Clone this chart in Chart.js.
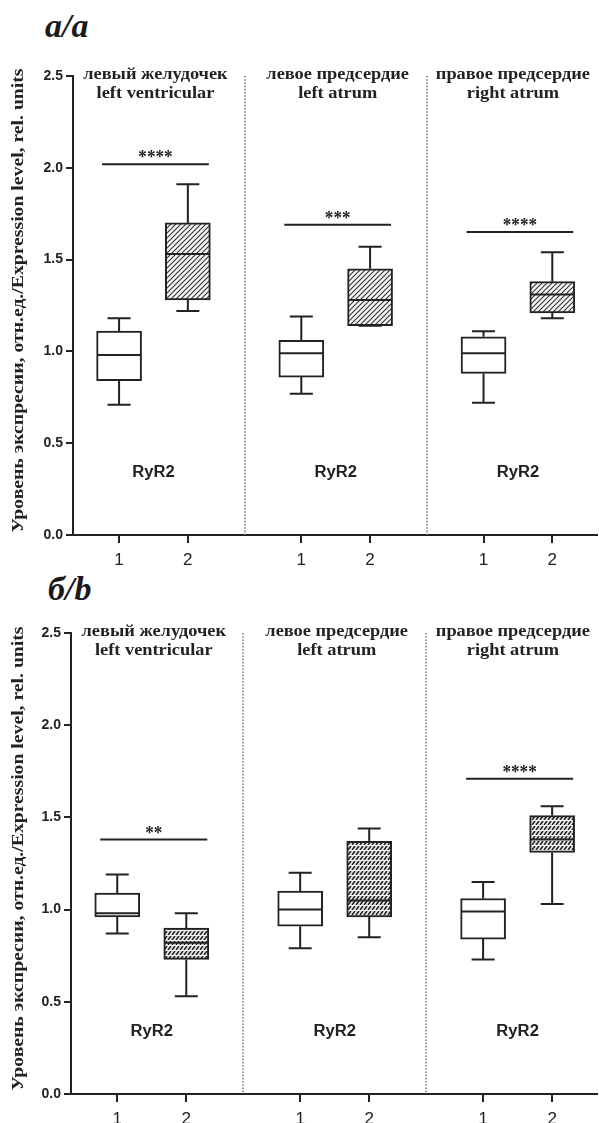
<!DOCTYPE html>
<html>
<head>
<meta charset="utf-8">
<script src="https://cdn.jsdelivr.net/npm/chart.js@4.4.1/dist/chart.umd.min.js"></script>
<style>
  html, body { margin: 0; padding: 0; background: #fff; }
  body { width: 599px; height: 1123px; position: relative; overflow: hidden; }
  .panel-label { position: absolute; font: italic bold 34px "Liberation Serif", serif; color: #1a1a1a; line-height: 34px; }
  .wrap { position: absolute; left: 0; width: 599px; }
</style>
</head>
<body>
<div class="panel-label" style="left:45px;top:9px">a/a</div>
<div class="wrap" style="top:40px;height:530px"><canvas id="chartA"></canvas></div>
<div class="panel-label" style="left:48px;top:572px">б/b</div>
<div class="wrap" style="top:600px;height:523px"><canvas id="chartB"></canvas></div>
<script>
// ---- data ----
const regionsRu = ["левый желудочек", "левое предсердие", "правое предсердие"];
const regionsEn = ["left ventricular", "left atrum", "right atrum"];
const groupTicks = ["1", "2"];
const geneLabel = "RyR2";
const yTicks = [0, 0.5, 1.0, 1.5, 2.0, 2.5];
const yTitle = "Уровень экспресии, отн.ед./Expression level, rel. units";

// box summaries per region: [min, q1, median, q3, max]
const aGroup1 = [[0.71, 0.84, 0.98, 1.11, 1.18], [0.77, 0.86, 0.99, 1.06, 1.19], [0.72, 0.88, 0.99, 1.08, 1.11]];
const aGroup2 = [[1.22, 1.28, 1.53, 1.70, 1.91], [1.14, 1.14, 1.28, 1.45, 1.57], [1.18, 1.21, 1.31, 1.38, 1.54]];
const aSigLevel = [2.02, 1.69, 1.65];
const aSigStars = ["****", "***", "****"];

const bGroup1 = [[0.87, 0.96, 0.98, 1.09, 1.19], [0.79, 0.91, 1.00, 1.10, 1.20], [0.73, 0.84, 0.99, 1.06, 1.15]];
const bGroup2 = [[0.53, 0.73, 0.82, 0.90, 0.98], [0.85, 0.96, 1.05, 1.37, 1.44], [1.03, 1.31, 1.38, 1.51, 1.56]];
const bSigLevel = [1.38, null, 1.71];
const bSigStars = ["**", "", "****"];

// ---- layout helpers ----
const GROUP_STEP = 2.65;
const xOf = (region, item) => 1 + region * GROUP_STEP + item;
const INK = "#222";

// hatch patterns for the second group
function hatchA() {
  const c = document.createElement("canvas");
  c.width = 5; c.height = 5;
  const g = c.getContext("2d");
  g.fillStyle = "#f7f7f7"; g.fillRect(0, 0, 5, 5);
  g.strokeStyle = "#333"; g.lineWidth = 1.1;
  g.beginPath();
  g.moveTo(-1, 6); g.lineTo(6, -1);
  g.moveTo(-1, 1); g.lineTo(1, -1);
  g.moveTo(4, 6); g.lineTo(6, 4);
  g.stroke();
  return g.createPattern(c, "repeat");
}
function hatchB() {
  const c = document.createElement("canvas");
  c.width = 4; c.height = 5;
  const g = c.getContext("2d");
  g.fillStyle = "#e6e6e6"; g.fillRect(0, 0, 4, 5);
  g.strokeStyle = "#1e1e1e"; g.lineWidth = 1.5;
  g.beginPath();
  g.moveTo(0, 5); g.lineTo(3, 1);
  g.moveTo(4, 5); g.lineTo(7, 1);
  g.stroke();
  g.fillStyle = "#f4f4f4";
  g.fillRect(0, 0, 4, 1);
  return g.createPattern(c, "repeat");
}

function stretchedText(ctx, text, x, y, sx) {
  ctx.save();
  ctx.translate(x, y);
  ctx.scale(sx, 1);
  ctx.fillText(text, 0, 0);
  ctx.restore();
}

function makeChart(id, g1, g2, sigLevel, sigStars, hatch, dims) {
  const toBar = (arr, item) => arr.map((b, i) => ({ x: xOf(i, item), y: [b[1], b[3]] }));

  const extras = {
    id: "boxExtras",
    beforeDatasetsDraw(chart) {
      const { ctx, chartArea, scales: { x, y } } = chart;
      ctx.save();
      ctx.strokeStyle = "#7a7a7a";
      ctx.lineWidth = 1.5;
      ctx.setLineDash([1.6, 1.6]);
      for (let i = 0; i < regionsRu.length - 1; i++) {
        const px = Math.round(x.getPixelForValue(xOf(i, 1) + (GROUP_STEP - 1) / 2));
        ctx.beginPath();
        ctx.moveTo(px, y.getPixelForValue(2.5));
        ctx.lineTo(px, chartArea.bottom);
        ctx.stroke();
      }
      ctx.restore();
    },
    afterDatasetsDraw(chart) {
      const { ctx, chartArea, scales: { x, y } } = chart;
      ctx.save();
      ctx.strokeStyle = INK;
      ctx.fillStyle = INK;
      ctx.lineWidth = 2;
      ctx.lineCap = "butt";
      const drawBox = (b, xv) => {
        const px = x.getPixelForValue(xv);
        ctx.beginPath();
        ctx.moveTo(px, y.getPixelForValue(b[3])); ctx.lineTo(px, y.getPixelForValue(b[4]));
        ctx.moveTo(px, y.getPixelForValue(b[1])); ctx.lineTo(px, y.getPixelForValue(b[0]));
        ctx.moveTo(px - 11.5, y.getPixelForValue(b[4])); ctx.lineTo(px + 11.5, y.getPixelForValue(b[4]));
        ctx.moveTo(px - 11.5, y.getPixelForValue(b[0])); ctx.lineTo(px + 11.5, y.getPixelForValue(b[0]));
        ctx.moveTo(px - 22, y.getPixelForValue(b[2])); ctx.lineTo(px + 22, y.getPixelForValue(b[2]));
        ctx.stroke();
      };
      g1.forEach((b, i) => drawBox(b, xOf(i, 0)));
      g2.forEach((b, i) => drawBox(b, xOf(i, 1)));

      // significance bars
      sigLevel.forEach((lv, i) => {
        if (lv == null) return;
        const x1 = x.getPixelForValue(xOf(i, 0)) - 17;
        const x2 = x.getPixelForValue(xOf(i, 1)) + 21;
        const py = y.getPixelForValue(lv);
        ctx.beginPath(); ctx.moveTo(x1, py); ctx.lineTo(x2, py); ctx.stroke();
        ctx.font = 'bold 18px "Liberation Serif"';
        ctx.textAlign = "center";
        ctx.textBaseline = "alphabetic";
        stretchedText(ctx, sigStars[i], (x1 + x2) / 2, py - 1, 0.95);
      });

      // region titles and gene labels
      regionsRu.forEach((name, i) => {
        const cx = (x.getPixelForValue(xOf(i, 0)) + x.getPixelForValue(xOf(i, 1))) / 2;
        ctx.font = 'bold 17px "Liberation Serif"';
        ctx.textAlign = "center";
        ctx.textBaseline = "middle";
        const sx = 1.08;
        const w = sx * Math.max(ctx.measureText(name).width, ctx.measureText(regionsEn[i]).width);
        const tx = Math.min(cx + 2, 590 - w / 2);
        stretchedText(ctx, name, tx, chartArea.top - 1, sx);
        stretchedText(ctx, regionsEn[i], tx, chartArea.top + 18, sx);
        ctx.font = 'bold 16px "Liberation Sans"';
        stretchedText(ctx, geneLabel, cx, y.getPixelForValue(0.34), 1.04);
      });
      ctx.restore();
    },
    afterDraw(chart) {
      // rotated axis title, stretched to the reference length
      const { ctx, chartArea } = chart;
      ctx.save();
      ctx.fillStyle = INK;
      ctx.font = 'bold 16px "Liberation Serif"';
      ctx.textAlign = "center";
      ctx.textBaseline = "middle";
      const w = ctx.measureText(yTitle).width;
      ctx.translate(19, (chartArea.top + chartArea.bottom) / 2 - 5);
      ctx.rotate(-Math.PI / 2);
      ctx.scale(464 / w, 1);
      ctx.fillText(yTitle, 0, 0);
      ctx.restore();
    }
  };

  return new Chart(document.getElementById(id), {
    type: "bar",
    data: {
      datasets: [
        { data: toBar(g1, 0), backgroundColor: "#fff", borderColor: INK, borderWidth: 2, borderSkipped: false, barThickness: 45, grouped: false },
        { data: toBar(g2, 1), backgroundColor: hatch, borderColor: INK, borderWidth: 2, borderSkipped: false, barThickness: 45, grouped: false }
      ]
    },
    options: {
      responsive: true,
      maintainAspectRatio: false,
      animation: false,
      layout: { padding: { top: dims.top, right: 2, left: 0, bottom: 0 } },
      plugins: { legend: { display: false }, tooltip: { enabled: false } },
      scales: {
        x: {
          type: "linear",
          min: 0.33,
          max: 7.95,
          offset: false,
          afterFit: (s) => { s.height = dims.xHeight; },
          afterBuildTicks: (s) => {
            const t = [];
            regionsRu.forEach((_, i) => groupTicks.forEach((_, j) => t.push({ value: xOf(i, j) })));
            s.ticks = t;
          },
          ticks: {
            autoSkip: false,
            maxRotation: 0,
            padding: 7,
            color: INK,
            font: { family: "Liberation Sans", size: 17 },
            callback: (v) => {
              const rel = Math.round(((v - 1) % GROUP_STEP) * 100) / 100;
              return groupTicks[rel < 0.5 ? 0 : 1];
            }
          },
          grid: { display: true, offset: false, drawOnChartArea: false, drawTicks: true, tickLength: 8, color: INK, lineWidth: 2 },
          border: { display: true, color: INK, width: 2 }
        },
        y: {
          min: 0,
          max: 2.5,
          afterFit: (s) => { s.width = dims.yWidth; },
          afterBuildTicks: (s) => { s.ticks = yTicks.map((v) => ({ value: v })); },
          ticks: {
            padding: 3,
            color: INK,
            font: { family: "Liberation Sans", size: 14, weight: "bold" },
            callback: (v) => Number(v).toFixed(1)
          },
          title: { display: false },
          grid: { display: true, drawOnChartArea: false, drawTicks: true, tickLength: 7, color: INK, lineWidth: 2 },
          border: { display: true, color: INK, width: 2 }
        }
      }
    },
    plugins: [extras]
  });
}

makeChart("chartA", aGroup1, aGroup2, aSigLevel, aSigStars, hatchA(), { top: 36, xHeight: 35, yWidth: 73 });
makeChart("chartB", bGroup1, bGroup2, bSigLevel, bSigStars, hatchB(), { top: 33, xHeight: 29, yWidth: 71 });
</script>
</body>
</html>
